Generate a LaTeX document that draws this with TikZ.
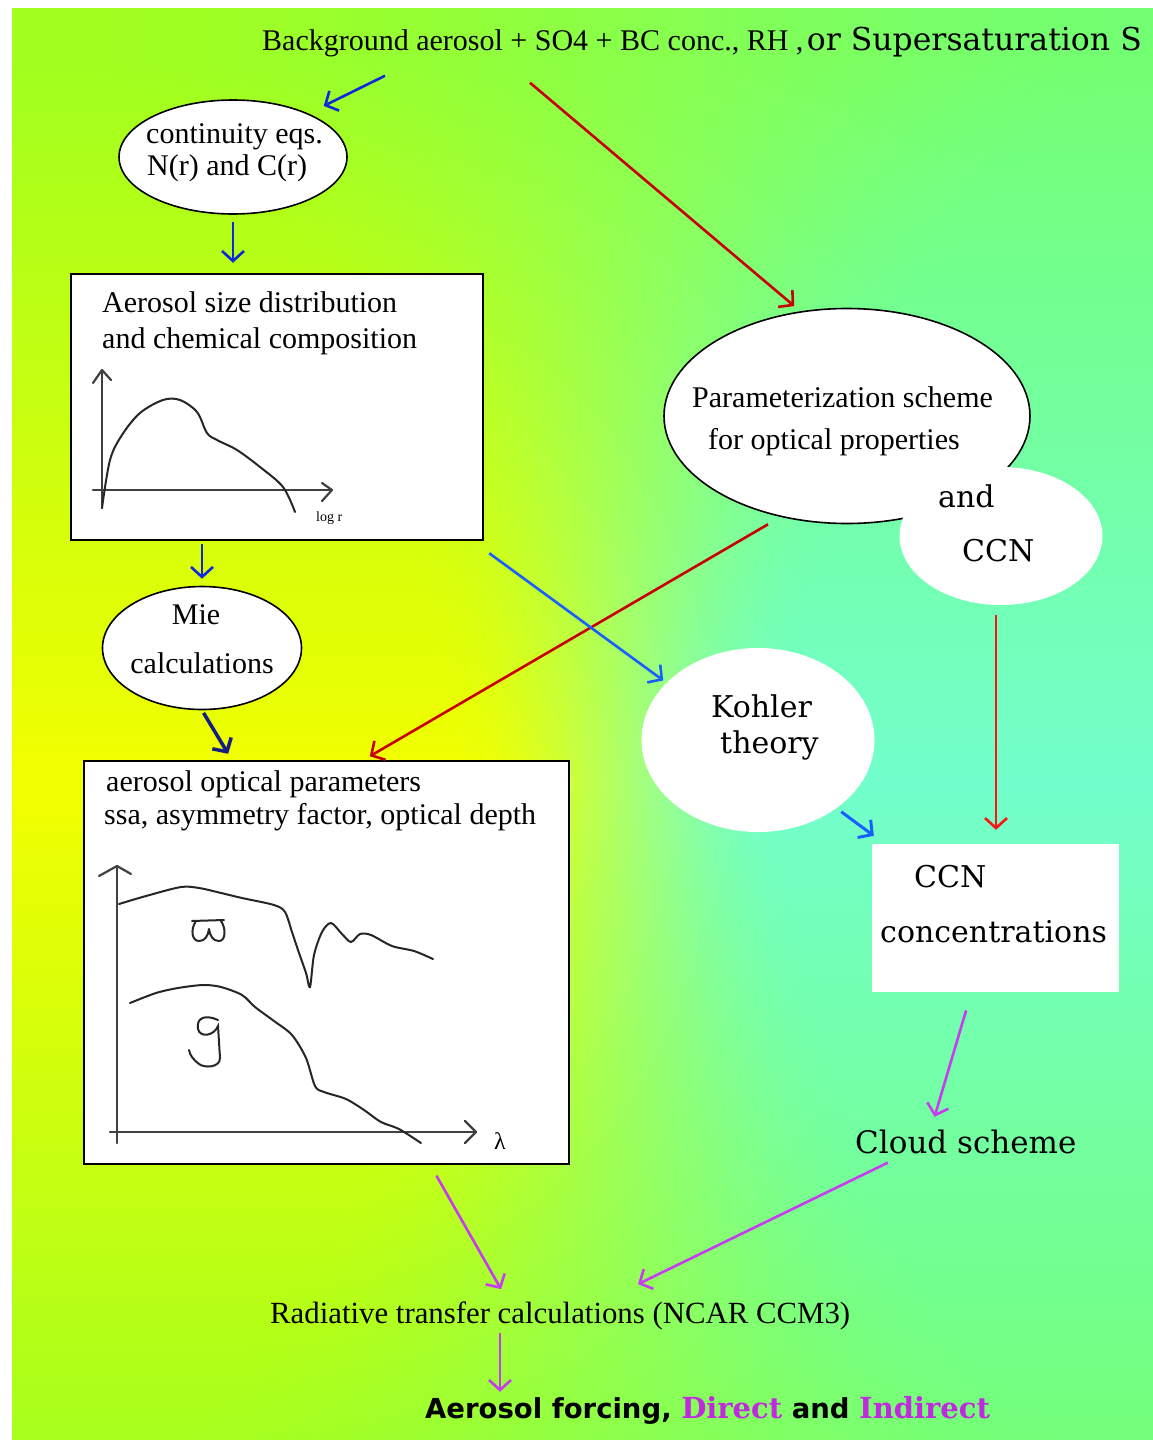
\documentclass[tikz,border=0pt]{standalone}
\usepackage{fontspec}
\usetikzlibrary{arrows.meta,shapes.geometric,calc}
\newfontfamily\tms{Liberation Serif}
\newfontfamily\dvs{DejaVu Serif}
\newfontfamily\dvsans{DejaVu Sans}
\newcommand\myfs[1]{\fontsize{#1}{#1}\selectfont}
\definecolor{arblue}{RGB}{16,40,220}
\definecolor{blueL}{RGB}{25,95,255}
\definecolor{navyA}{RGB}{20,30,130}
\definecolor{redA}{RGB}{200,0,0}
\definecolor{redB}{RGB}{250,20,20}
\definecolor{magA}{RGB}{200,60,240}
\definecolor{magT}{RGB}{195,40,225}
\pgfdeclarefunctionalshading{bgshade}{\pgfpoint{0bp}{0bp}}{\pgfpoint{100bp}{100bp}}{}{
  25 sub 50 div 0.46 sub abs 2 mul 1 exch sub dup abs add 2 div
  exch 25 sub 50 div
  0.53 sub 1 index 2.5 mul 1 add mul 0.5 add
  dup abs add 2 div
  1 exch sub dup abs add 2 div 1 exch sub
  dup dup mul exch 2 mul 3 exch sub mul
  1 index 0.32 mul 0.63 add
  1 index 1 exch sub mul
  1 index 0.45 mul add
  2 index 1 exch sub 0.12 mul
  2 index 1 exch sub mul
  3 index 0.35 mul 0.45 add
  3 index mul add
  1 exch
  5 3 roll pop pop
}
\begin{document}
\begin{tikzpicture}[x=1pt,y=-1pt,
  lbl/.style={inner sep=0pt, anchor=base west},
  tm/.style={lbl, font=\tms\myfs{30}},
  dv/.style={lbl, font=\dvs\myfs{30}},
  ell/.style={ellipse, fill=white, inner sep=0pt},
  ellline/.style={ell, draw=black, line width=1.6pt},
  boxline/.style={rectangle, fill=white, draw=black, line width=2.5pt, inner sep=0pt},
  axis/.style={line width=2.2pt, draw=black!75, line cap=round, line join=round},
  curve/.style={line width=2pt, draw=black!85, line cap=round},
  arr/.style={line width=2.6pt, -{Straight Barb[length=10pt,width=22pt]}},
]
\useasboundingbox (0,0) rectangle (1153,1440);
\fill[white] (0,0) rectangle (1153,1440);
\shade[shading=bgshade] (12,8) rectangle (1153,1440);

% title
\node[lbl] (title) at (262,50) {{\tms\myfs{30}Background aerosol + SO4 + BC conc., RH ,} {\dvs\myfs{31.5}or Supersaturation S}};

% continuity ellipse
\node[ellline, minimum width=228pt, minimum height=114pt] (e1) at (233,157) {};
\node[tm] (e1a) at (146,143) {continuity eqs.};
\node[tm] (e1b) at (147,175) {N(r) and C(r)};

% box 1
\node[boxline, minimum width=412pt, minimum height=266pt] (box1) at (277,407) {};
\node[tm] (b1a) at (102,312) {Aerosol size distribution};
\node[tm] (b1b) at (102,348) {and chemical composition};
\draw[axis] (102,508) -- (102,371);
\draw[axis] (93,490) -- (331,490);
\draw[axis] (93,383) -- (102,370) -- (111,380);
\draw[axis] (322,483) -- (332,490) -- (322,501);
\draw[curve] plot[smooth, tension=0.55] coordinates {(102,508) (110,460) (122,435) (140,413) (163,400) (180,400) (197,412) (207,433) (217,440) (237,450) (260,467) (283,487) (295,512)};
\node[lbl, font=\tms\myfs{14}] (logr) at (316,521) {log r};

% Mie
\node[ellline, minimum width=199pt, minimum height=123pt] (mie) at (202,648) {};
\node[tm, anchor=base] (miea) at (196,624) {Mie};
\node[tm, anchor=base] (mieb) at (202,673) {calculations};

% box 2
\node[boxline, minimum width=485pt, minimum height=403pt] (box2) at (326.5,962.5) {};
\node[tm] (b2a) at (106,791) {aerosol optical parameters};
\node[tm] (b2b) at (104,824) {ssa, asymmetry factor, optical depth};
\draw[axis] (117,1143) -- (117,867);
\draw[axis] (110,1132) -- (476,1132);
\draw[axis] (99,876) -- (117,866) -- (131,874);
\draw[axis] (465,1121) -- (476,1132) -- (465,1143);
\draw[curve] plot[smooth, tension=0.5] coordinates {(119,904) (146,896) (181,887) (199,888) (217,892) (242,898) (274,905) (285,912) (292,932) (298,950) (306,973) (310,987) (314,955) (322,932) (331,923) (342,934) (351,942) (360,934) (371,935) (392,946) (414,951) (433,959)};
\draw[curve] plot[smooth, tension=0.5] coordinates {(130,1003) (156,993) (178,988) (203,985) (221,987) (242,995) (255,1007) (274,1021) (292,1035) (306,1058) (315,1086) (324,1092) (346,1099) (364,1110) (381,1122) (399,1129) (421,1143)};
% omega-like symbol
\draw[curve, line join=round] (192,921) -- (224,920)
  (196,921) .. controls (190,930) and (192,941) .. (199,941) .. controls (205,941) and (208,936) .. (209,929)
  .. controls (210,936) and (213,941) .. (219,941) .. controls (226,941) and (226,928) .. (221,921);
% g symbol
\draw[curve] (218,1020) .. controls (205,1014) and (196,1018) .. (198,1029) .. controls (200,1038) and (214,1036) .. (218,1026) -- (220,1058) .. controls (220,1068) and (204,1068) .. (199,1064) .. controls (194,1060) and (190,1056) .. (189,1050);
\node[lbl, font=\tms\myfs{24}] (lam) at (494,1149) {λ};

% parameterization
\node[ellline, minimum width=366pt, minimum height=215pt] (param) at (847,416) {};
\node[tm] (pa) at (692,407) {Parameterization scheme};
\node[tm] (pb) at (708,449) {for optical properties};
\node[ell, minimum width=203pt, minimum height=138pt] (andccn) at (1001,536) {};
\node[dv] (aca) at (938,507) {and};
\node[dv] (acb) at (962,561) {CCN};

% Kohler
\node[ell, minimum width=233pt, minimum height=184pt] (kohler) at (758,740) {};
\node[dv] (ka) at (711,717) {Kohler};
\node[dv] (kb) at (720,753) {theory};

% CCN box
\node[rectangle, fill=white, inner sep=0pt, minimum width=247pt, minimum height=148pt] (ccnbox) at (995.5,918) {};
\node[dv] (ca) at (914,887) {CCN};
\node[dv] (cb) at (880,942) {concentrations};

% bottom texts
\node[lbl, font=\dvs\myfs{31}] (cloud) at (855,1153) {Cloud scheme};
\node[tm, font=\tms\myfs{30.8}] (rad) at (270,1323) {Radiative transfer calculations (NCAR CCM3)};
\node[lbl, font=\dvsans\bfseries\myfs{27.5}] (forcing) at (425,1418) {Aerosol forcing, {\dvs\myfs{29}\color{magT}Direct} and {\dvs\myfs{29}\color{magT}Indirect}};

% connectors
\draw[arr, arblue, shorten >=17pt] ([xshift=123pt,yshift=-19pt]title.south west) -- (e1.30);
\draw[arr, arblue, shorten <=7pt, shorten >=10pt] (e1.south) -- (e1.south |- box1.north);
\draw[arr, arblue, shorten <=3pt, shorten >=7pt] (box1.south -| mie.north) -- (mie.north);
\draw[arr, navyA, line width=3.5pt, shorten <=3pt, shorten >=7pt] (mie.south) -- ([xshift=149pt]box2.north west);
\draw[arr, redA, shorten >=8pt] ([xshift=268pt,yshift=-26pt]title.south west) -- (param.114);
\draw[arr, redA, shorten >=7pt] ([xshift=-79pt]param.south) -- ([xshift=281pt]box2.north west);
\draw[arr, blueL, shorten >=4pt] ([xshift=5pt,yshift=-12pt]box1.south east) -- (kohler.148);
\draw[arr, blueL, line width=3pt, shorten <=6pt] (kohler.-41) -- ([xshift=2pt,yshift=8pt]ccnbox.north west);
\draw[arr, redB, shorten <=10pt, shorten >=14pt] ([xshift=-5pt]andccn.south) -- ([xshift=-5pt]ccnbox.north -| andccn.south);
\draw[arr, magA, shorten <=19pt, shorten >=13pt] ([xshift=-24pt]ccnbox.south) -- ([xshift=-35pt]cloud.north);
\draw[arr, magA, shorten <=12pt] ([xshift=104pt]box2.south) -- ([xshift=231pt,yshift=12pt]rad.north west);
\draw[arr, magA] ([xshift=-78pt,yshift=-9pt]cloud.south) -- ([xshift=368pt,yshift=17pt]rad.north west);
\draw[arr, magA, shorten <=3pt, shorten >=4pt] ([xshift=230pt]rad.south west) -- ([xshift=75pt]forcing.north west);
\end{tikzpicture}
\end{document}
